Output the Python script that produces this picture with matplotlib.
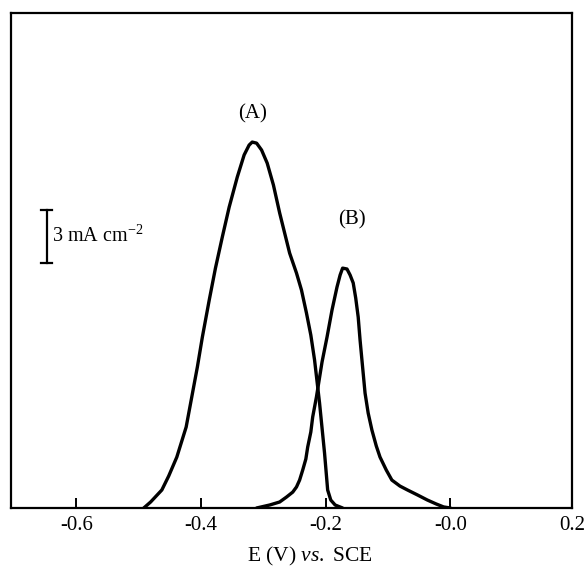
import matplotlib
matplotlib.use("Agg")
from matplotlib import pyplot as plt

plt.rcParams["font.family"] = "Liberation Serif"
plt.rcParams["mathtext.fontset"] = "custom"
plt.rcParams["mathtext.rm"] = "Liberation Serif"
plt.rcParams["mathtext.it"] = "Liberation Serif:italic"

# curve (A): potential (V vs SCE) and current density (mA cm^-2)
eA = [-0.492, -0.481, -0.463, -0.452, -0.439, -0.424, -0.415, -0.406, -0.398,
      -0.387, -0.377, -0.366, -0.355, -0.342, -0.331, -0.323, -0.318, -0.311,
      -0.303, -0.294, -0.284, -0.274, -0.258, -0.247, -0.239, -0.231, -0.224,
      -0.218, -0.210, -0.202, -0.197, -0.192, -0.185, -0.173]
iA = [0.0, 0.34, 1.02, 1.81, 2.88, 4.58, 6.28, 7.98, 9.67,
      11.76, 13.57, 15.33, 17.02, 18.72, 19.97, 20.53, 20.70, 20.64,
      20.25, 19.51, 18.27, 16.69, 14.42, 13.29, 12.33, 11.03, 9.78,
      8.37, 5.94, 3.11, 1.02, 0.45, 0.17, 0.0]

# curve (B)
eB = [-0.311, -0.290, -0.274, -0.263, -0.253, -0.247, -0.242, -0.237, -0.232,
      -0.229, -0.224, -0.221, -0.215, -0.206, -0.198, -0.190, -0.182, -0.177,
      -0.173, -0.166, -0.161, -0.156, -0.152, -0.148, -0.145, -0.142, -0.137,
      -0.132, -0.126, -0.119, -0.113, -0.103, -0.094, -0.081, -0.069, -0.053,
      -0.037, -0.023, -0.011, 0.000]
iB = [0.0, 0.17, 0.34, 0.62, 0.90, 1.19, 1.58, 2.15, 2.77,
      3.45, 4.30, 5.15, 6.28, 8.26, 9.67, 11.20, 12.50, 13.18,
      13.57, 13.52, 13.18, 12.73, 11.88, 10.80, 9.50, 8.37, 6.50,
      5.37, 4.41, 3.51, 2.88, 2.15, 1.58, 1.24, 1.02, 0.74,
      0.45, 0.23, 0.06, 0.0]

tick_pos = [-0.6, -0.4, -0.2, 0.0, 0.195]
tick_lab = ["-0.6", "-0.4", "-0.2", "-0.0", "0.2"]

fig = plt.figure(figsize=(5.88, 5.69), dpi=100)
ax = fig.add_axes([0.0187, 0.1072, 0.9541, 0.8699])

ax.plot(eA, iA, color="black", lw=2.4, solid_capstyle="round", solid_joinstyle="round")
ax.plot(eB, iB, color="black", lw=2.4, solid_capstyle="round", solid_joinstyle="round")

ax.text(-0.318, 22.3, "(A)", ha="center", va="center", fontsize=15)
ax.text(-0.158, 16.3, "(B)", ha="center", va="center", fontsize=15)

# scale bar: 3 mA cm^-2
bx = -0.648
ax.plot([bx, bx], [13.86, 16.86], color="black", lw=1.6)
ax.plot([bx - 0.009, bx + 0.009], [13.86, 13.86], color="black", lw=1.6)
ax.plot([bx - 0.009, bx + 0.009], [16.86, 16.86], color="black", lw=1.6)
ax.text(-0.639, 15.4, "3 mA cm$^{-2}$", ha="left", va="center", fontsize=14.5)

ax.set_xlim(-0.705, 0.195)
ax.set_ylim(0, 28)
ax.set_xticks(tick_pos)
ax.set_xticklabels(tick_lab, fontsize=15)
ax.set_yticks([])
ax.tick_params(axis="x", direction="in", length=7, width=1.4, pad=6)
for s in ax.spines.values():
    s.set_linewidth(1.6)
ax.set_xlabel("E (V) $\\it{vs.}$ SCE", fontsize=15.5)
ax.xaxis.set_label_coords(0.533, -0.074)

fig.savefig("out.png", dpi=100)
